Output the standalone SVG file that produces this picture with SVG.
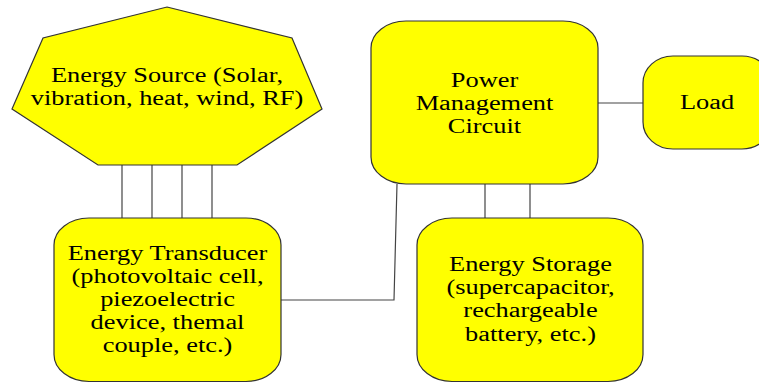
<svg xmlns="http://www.w3.org/2000/svg" width="759" height="383" viewBox="0 0 759 383">
<style>
.n{fill:#FFFF00;stroke:#333;stroke-width:1.2}
.c{stroke:#444;stroke-width:1.2;fill:none}
.t{font-family:"Liberation Serif","Times New Roman",serif;font-size:20px;fill:#000;text-anchor:middle}
</style>
<rect width="759" height="383" fill="#fff"/>
<g id="connectors">
<line class="c" x1="122" y1="165" x2="122" y2="218"/>
<line class="c" x1="152" y1="165" x2="152" y2="218"/>
<line class="c" x1="182" y1="165" x2="182" y2="218"/>
<line class="c" x1="212" y1="165" x2="212" y2="218"/>
<polyline class="c" points="281,300 394,300 397,184"/>
<line class="c" x1="598" y1="103" x2="643" y2="103"/>
<line class="c" x1="485" y1="184" x2="485" y2="218"/>
<line class="c" x1="530" y1="184" x2="530" y2="218"/>
</g>
<g id="source">
<polygon class="n" points="167,7 292,38 322,109 237,165 98,165 12,109 43,38"/>
<g class="t" transform="translate(167,0) scale(1.32,1)">
<text x="0" y="82">Energy Source (Solar,</text>
<text x="0" y="105">vibration, heat, wind, RF)</text>
</g>
</g>
<g id="pmc">
<rect class="n" x="371" y="21" width="227" height="163" rx="35" ry="27"/>
<g class="t" transform="translate(484.5,0) scale(1.32,1)">
<text x="0" y="87">Power</text>
<text x="0" y="110">Management</text>
<text x="0" y="133">Circuit</text>
</g>
</g>
<g id="load">
<rect class="n" x="643" y="56" width="129" height="93" rx="30" ry="27"/>
<g class="t" transform="translate(707,0) scale(1.32,1)">
<text x="0" y="109">Load</text>
</g>
</g>
<g id="transducer">
<rect class="n" x="54" y="218" width="227" height="163.5" rx="35" ry="27"/>
<g class="t" transform="translate(167.5,0) scale(1.32,1)">
<text x="0" y="260">Energy Transducer</text>
<text x="0" y="283">(photovoltaic cell,</text>
<text x="0" y="306">piezoelectric</text>
<text x="0" y="329">device, themal</text>
<text x="0" y="352">couple, etc.)</text>
</g>
</g>
<g id="storage">
<rect class="n" x="417" y="218" width="226" height="163.5" rx="35" ry="27"/>
<g class="t" transform="translate(530.5,0) scale(1.32,1)">
<text x="0" y="271">Energy Storage</text>
<text x="0" y="294">(supercapacitor,</text>
<text x="0" y="317">rechargeable</text>
<text x="0" y="341">battery, etc.)</text>
</g>
</g>
</svg>
